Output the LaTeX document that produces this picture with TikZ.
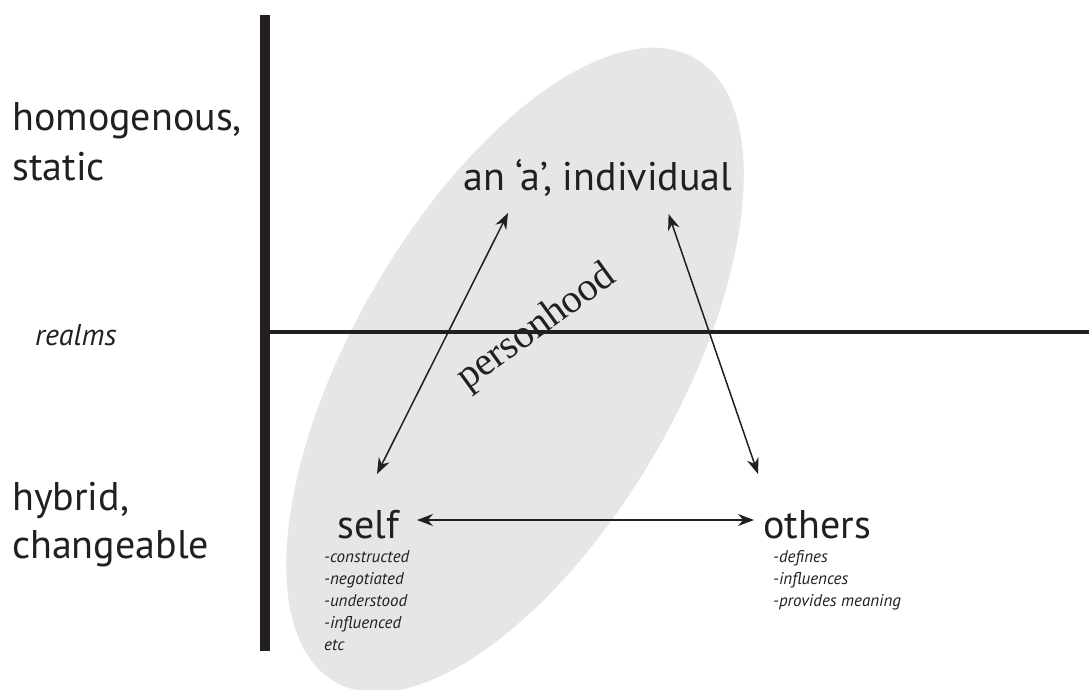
\documentclass[tikz,border=0pt]{standalone}
\usepackage{fontspec}
\setmainfont{PT Sans}
\newfontfamily\personfont{Liberation Serif}
\usetikzlibrary{arrows.meta}
\definecolor{diagink}{HTML}{231F20}
\definecolor{blobgray}{HTML}{E6E6E6}

\begin{document}
\begin{tikzpicture}[
  x=1pt,
  y=-1pt,
  every node/.style={diagink, inner sep=0pt},
  biglabel/.style={font=\fontsize{40}{48}\selectfont, anchor=base west},
  realmname/.style={font=\fontsize{30}{36}\selectfont\itshape, anchor=base west},
  notelist/.style={font=\fontsize{17}{22}\selectfont\itshape, align=left,
                   anchor=north west},
  pole/.style={diagink, line width=10pt},
  divider/.style={diagink, line width=4pt},
  blob/.style={fill=blobgray},
  link/.style={diagink, line width=1.5pt,
               {Stealth[length=16pt,width=12pt]}-{Stealth[length=16pt,width=12pt]}}
]
  \useasboundingbox (0,0) rectangle (1089,689);

  % ---- personhood ellipse ----
  \fill[blob, rotate around={60:(515,370)}] (515,370) ellipse [x radius=360, y radius=163];

  % ---- realm axes ----
  \draw[pole] (265,15) -- (265,651);
  \draw[divider] (265,332) -- (1089,332);

  % ---- realm labels ----
  \node[biglabel] (homog) at (12,130) {homogenous,};
  \node[biglabel] (static) at (12,180) {static};
  \node[realmname] (realms) at (35,345) {realms};
  \node[biglabel] (hybrid) at (12,510) {hybrid,};
  \node[biglabel] (change) at (12,558) {changeable};

  % ---- the three poles ----
  \node[biglabel] (indiv) at (463,190) {an ‘a’, individual};
  \node[biglabel] (self) at (337,538) {self};
  \node[biglabel] (others) at (763,538) {others};
  \node[rotate=36, font=\personfont\fontsize{40}{42}\selectfont] (person) at (537,328) {personhood};

  % ---- notes under self and others ----
  \node[notelist] (selfnotes) at (324,550)
    {-constructed\\-negotiated\\-understood\\-influenced\\etc};
  \node[notelist] (othernotes) at (773,550)
    {-defines\\-influences\\-provides meaning};

  % ---- two-way links ----
  \draw[link] ([shift={(40,-64)}]self.base west) -- ([shift={(45,23)}]indiv.base west);
  \draw[link] ([shift={(-64,24)}]indiv.base east) -- ([shift={(-5,-64)}]others.base west);
  \draw[link] ([shift={(18,-18)}]self.base east) -- ([shift={(-9,-18)}]others.base west);
\end{tikzpicture}
\end{document}
